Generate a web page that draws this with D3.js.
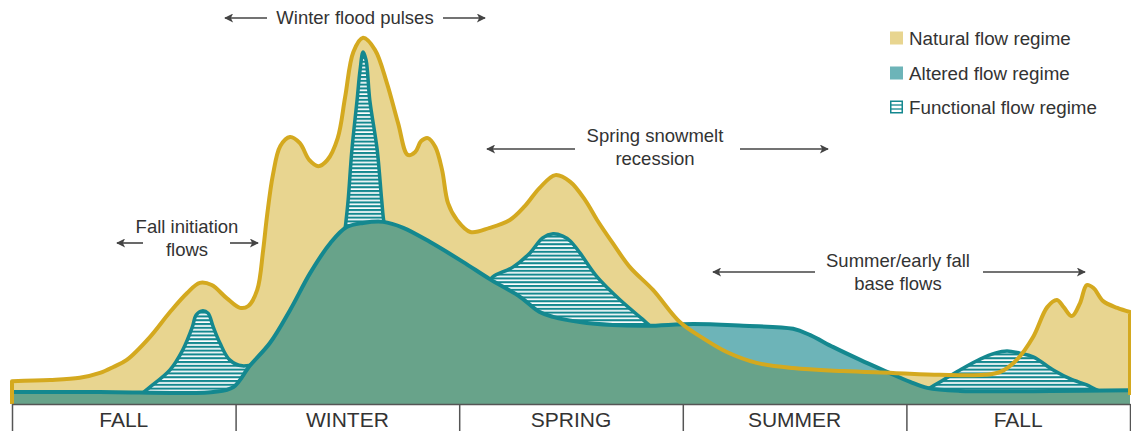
<!DOCTYPE html>
<html>
<head>
<meta charset="utf-8">
<script src="https://cdn.jsdelivr.net/npm/d3@7"></script>
<style>
  body { margin: 0; background: #fff; }
  svg { display: block; }
  text { font-family: "Liberation Sans", Arial, sans-serif; fill: #333; }
</style>
</head>
<body>
<svg id="chart"></svg>
<script>
const W = 1131, H = 431;

// x = months since start of water year (15 months shown), y = relative flow
const seasons = ["FALL", "WINTER", "SPRING", "SUMMER", "FALL"];
const seasonBounds = [0, 3, 6, 9, 12, 15];

const natural = [
  [0.00, 6.1], [0.51, 6.4], [0.91, 7.0], [1.18, 8.3], [1.36, 9.9], [1.54, 11.8],
  [1.85, 17.9], [2.12, 24.6], [2.35, 29.7], [2.52, 32.4], [2.68, 31.8], [2.88, 28.3],
  [3.06, 25.7], [3.17, 26.2], [3.29, 30.5], [3.37, 41.2], [3.42, 50.0], [3.50, 61.2],
  [3.60, 69.0], [3.73, 71.4], [3.86, 69.8], [3.99, 65.2], [4.11, 63.6], [4.23, 65.2],
  [4.37, 71.1], [4.47, 82.1], [4.58, 94.1], [4.71, 97.9], [4.87, 94.7], [5.03, 85.8],
  [5.18, 75.1], [5.31, 66.6], [5.41, 67.4], [5.49, 70.3], [5.58, 71.1], [5.68, 68.7],
  [5.77, 62.6], [5.85, 53.7], [5.97, 49.2], [6.15, 46.0], [6.41, 47.1], [6.68, 49.2],
  [6.88, 52.9], [7.08, 57.8], [7.29, 61.2], [7.49, 59.4], [7.69, 54.5], [7.85, 49.2],
  [8.06, 43.0], [8.29, 36.6], [8.60, 30.5], [8.96, 21.9], [9.27, 17.6], [9.59, 13.9],
  [9.99, 11.0], [10.48, 9.6], [11.15, 8.8], [11.82, 8.3], [12.45, 7.8], [13.05, 7.8],
  [13.26, 8.6], [13.48, 11.8], [13.70, 17.9], [13.89, 25.9], [14.02, 27.8], [14.11, 25.9],
  [14.22, 23.5], [14.33, 27.0], [14.42, 31.8], [14.51, 31.0], [14.64, 27.5], [14.83, 25.7],
  [15.00, 24.6]
];

const altered = [
  [0.00, 3.2], [1.18, 3.2], [2.70, 3.2], [2.97, 4.5], [3.19, 10.2], [3.46, 16.3],
  [3.73, 25.1], [4.00, 35.0], [4.27, 43.0], [4.49, 47.3], [4.71, 48.4], [4.98, 48.7],
  [5.25, 47.1], [5.61, 43.3], [6.05, 38.0], [6.41, 33.4], [6.82, 28.6], [7.08, 24.6],
  [7.26, 23.3], [7.62, 21.9], [8.06, 21.1], [8.52, 20.9], [9.14, 21.4], [9.81, 20.9],
  [10.48, 20.1], [10.71, 18.4], [11.02, 15.2], [11.38, 11.8], [11.74, 8.6], [12.05, 5.9],
  [12.28, 4.3], [12.72, 3.5], [13.93, 3.5], [15.00, 3.7]
];

// functional flow pulses (hatched)
const fallPulse = [
  [1.72, 2.4], [1.85, 4.5], [2.12, 9.1], [2.29, 14.4], [2.42, 20.6], [2.47, 23.8],
  [2.55, 24.9], [2.63, 24.3], [2.70, 20.6], [2.79, 16.3], [2.92, 11.8], [3.09, 10.2],
  [3.33, 11.2]
];
const winterPulse = [
  [4.45, 43.9], [4.48, 48.7], [4.51, 54.5], [4.56, 67.9], [4.63, 81.3], [4.67, 89.3],
  [4.71, 94.1], [4.75, 92.0], [4.80, 81.3], [4.90, 67.9], [4.96, 54.5], [4.99, 48.7],
  [5.05, 43.9]
];
const springPulse = [
  [6.35, 31.8], [6.45, 34.0], [6.72, 36.6], [6.95, 40.4], [7.12, 44.4], [7.26, 45.5],
  [7.39, 44.9], [7.49, 43.6], [7.62, 40.4], [7.85, 34.0], [8.16, 27.8], [8.47, 22.5],
  [8.56, 20.9], [8.69, 19.3]
];
const summerPulse = [
  [12.25, 3.5], [12.45, 5.9], [12.72, 9.1], [12.99, 12.0], [13.19, 13.6], [13.35, 14.2],
  [13.52, 13.6], [13.70, 12.6], [13.97, 9.1], [14.20, 6.7], [14.42, 5.1], [14.53, 4.0],
  [14.66, 2.9]
];
const pulses = [fallPulse, winterPulse, springPulse, summerPulse];

const legendLabels = ["Natural flow regime", "Altered flow regime", "Functional flow regime"];

const cBeige = "#e8d590", cYellow = "#d4a91f", cTealFill = "#6db4b8",
      cGreen = "#68a38a", cTeal = "#14888f";

const svg = d3.select("#chart").attr("width", W).attr("height", H);

const x = d3.scaleLinear().domain([0, 15]).range([12, 1130]);
const y = d3.scaleLinear().domain([0, 100]).range([404, 30]);
const band = d3.scaleBand().domain(d3.range(seasons.length)).range([12, 1130]);

const curve = d3.curveCatmullRom.alpha(0.5);
const area = d3.area().x(d => x(d[0])).y0(y(0)).y1(d => y(d[1])).curve(curve);
const line = d3.line().x(d => x(d[0])).y(d => y(d[1])).curve(curve);

const defs = svg.append("defs");
defs.append("clipPath").attr("id", "clip-natural")
  .append("path").attr("d", area(natural));

const pat = defs.append("pattern").attr("id", "hatch")
  .attr("patternUnits", "userSpaceOnUse").attr("width", 20).attr("height", 3.8);
pat.append("rect").attr("width", 20).attr("height", 3.8).attr("fill", "#fff");
pat.append("rect").attr("width", 20).attr("height", 2.1).attr("fill", cTeal);

defs.append("marker").attr("id", "arrow")
  .attr("viewBox", "0 0 10 10").attr("refX", 9).attr("refY", 5)
  .attr("markerUnits", "userSpaceOnUse").attr("markerWidth", 10).attr("markerHeight", 9)
  .attr("orient", "auto-start-reverse")
  .append("path").attr("d", "M0,0 L10,5 L0,10 L2.5,5 Z").attr("fill", "#444");

// natural fill
svg.append("path").attr("d", area(natural)).attr("fill", cBeige);

// functional pulses
pulses.forEach(p => {
  svg.append("path").attr("d", area(p)).attr("fill", "url(#hatch)");
  svg.append("path").attr("d", line(p)).attr("fill", "none")
    .attr("stroke", cTeal).attr("stroke-width", 3.5);
});

// altered fill: teal where above natural, green where overlapping
svg.append("path").attr("d", area(altered)).attr("fill", cTealFill);
svg.append("path").attr("d", area(altered)).attr("fill", cGreen)
  .attr("clip-path", "url(#clip-natural)");

svg.append("path").attr("d", line(altered)).attr("fill", "none")
  .attr("stroke", cTeal).attr("stroke-width", 4);

// natural line with vertical edges
const nl = line(natural);
const nFirst = natural[0], nLast = natural[natural.length - 1];
svg.append("path")
  .attr("d", `M${x(nFirst[0])},${y(0)}L` + nl.slice(1) + `L${x(nLast[0])},${y(0) - 9}`)
  .attr("fill", "none").attr("stroke", cYellow).attr("stroke-width", 4)
  .attr("stroke-linejoin", "round");

// season axis
const axis = svg.append("g").attr("transform", `translate(0,${y(0)})`)
  .call(d3.axisBottom(x).tickValues(seasonBounds).tickSize(28).tickSizeOuter(0).tickFormat(""));
axis.select(".domain").attr("stroke", "#555").attr("stroke-width", 1.5);
axis.selectAll(".tick line").attr("stroke", "#555").attr("stroke-width", 1.5);

svg.append("g").selectAll("text").data(seasons).join("text")
  .attr("x", (d, i) => band(i) + band.bandwidth() / 2)
  .attr("y", 427)
  .attr("text-anchor", "middle")
  .attr("font-size", 21)
  .text(d => d);

// annotations
function note(lines, cx, y0, a1, a2, ay) {
  const g = svg.append("g");
  lines.forEach((t, i) => {
    g.append("text").attr("x", cx).attr("y", y0 + i * 22.5)
      .attr("text-anchor", "middle").attr("font-size", 18.5).text(t);
  });
  [a1, a2].forEach(a => {
    g.append("line").attr("x1", a[0]).attr("x2", a[1]).attr("y1", ay).attr("y2", ay)
      .attr("stroke", "#444").attr("stroke-width", 1.6).attr("marker-end", "url(#arrow)");
  });
}
note(["Winter flood pulses"], 355, 24, [267, 225], [443, 485], 18);
note(["Spring snowmelt", "recession"], 655, 142, [575, 487], [740, 828], 149);
note(["Fall initiation", "flows"], 187, 233, [143, 117], [230, 258], 243);
note(["Summer/early fall", "base flows"], 898, 267, [815, 713], [983, 1085], 272);

// legend
const leg = svg.append("g").attr("transform", "translate(890,0)");
const legY = [38, 73, 107];
legendLabels.forEach((t, i) => {
  const g = leg.append("g").attr("transform", `translate(0,${legY[i]})`);
  if (i === 0) g.append("rect").attr("y", -6.5).attr("width", 13).attr("height", 13).attr("fill", cBeige);
  if (i === 1) g.append("rect").attr("y", -6.5).attr("width", 13).attr("height", 13).attr("fill", cTealFill);
  if (i === 2) {
    g.append("rect").attr("x", 0.75).attr("y", -5.75).attr("width", 11.5).attr("height", 11.5)
      .attr("fill", "#fff").attr("stroke", cTeal).attr("stroke-width", 1.5);
    [-2, 2].forEach(v => g.append("line").attr("x1", 1).attr("x2", 12).attr("y1", v).attr("y2", v)
      .attr("stroke", cTeal).attr("stroke-width", 1.3));
  }
  g.append("text").attr("x", 19).attr("y", 6.5).attr("font-size", 18.8).text(t);
});
</script>
</body>
</html>
